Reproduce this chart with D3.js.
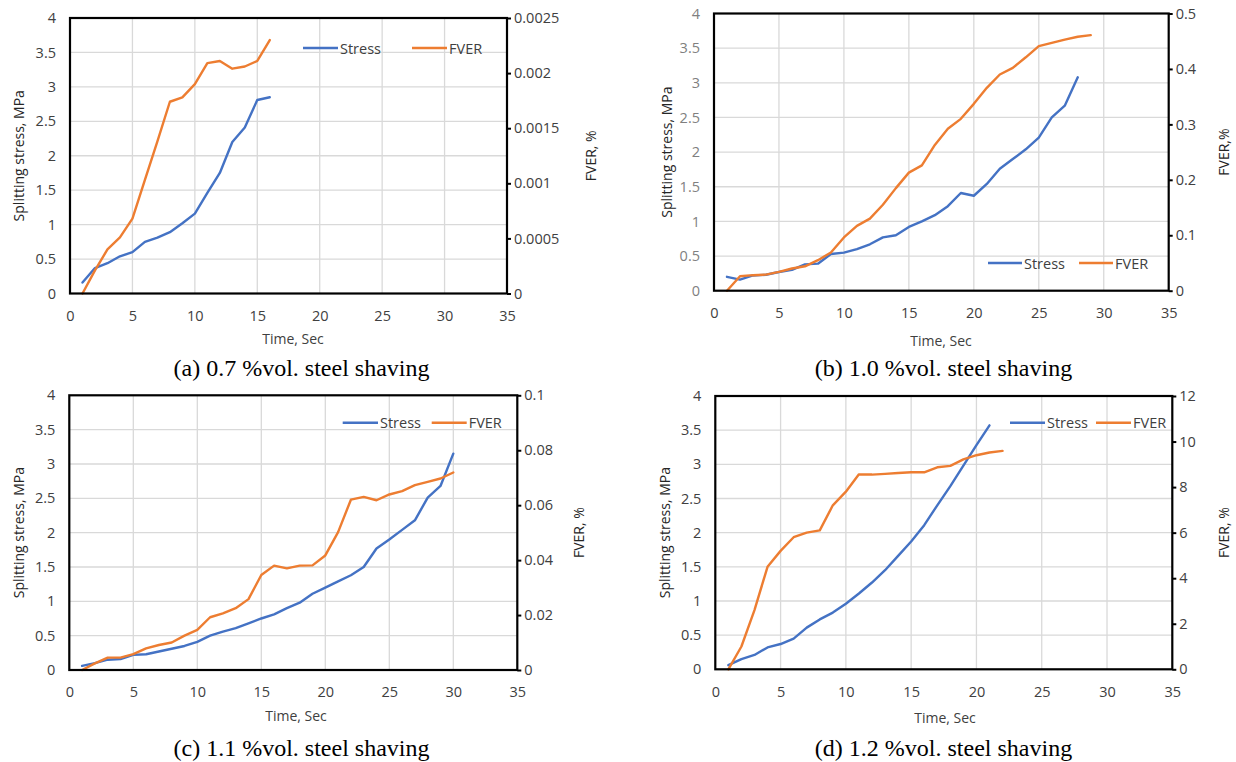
<!DOCTYPE html>
<html><head><meta charset="utf-8">
<script src="https://cdn.jsdelivr.net/npm/d3@7"></script>
<style>body{margin:0;background:#fff}</style>
</head><body><svg id="c" width="1236" height="762"></svg>
<script>
// ---------- data ----------
const seriesNames = ["Stress", "FVER"];
const xTickValues = [0, 5, 10, 15, 20, 25, 30, 35];
const xTickLabels = ["0", "5", "10", "15", "20", "25", "30", "35"];
const stressTickValues = [0, 0.5, 1, 1.5, 2, 2.5, 3, 3.5, 4];
const stressTickLabels = ["0", "0.5", "1", "1.5", "2", "2.5", "3", "3.5", "4"];

const fverTicksA = [0, 0.0005, 0.001, 0.0015, 0.002, 0.0025];
const fverLabelsA = ["0", "0.0005", "0.001", "0.0015", "0.002", "0.0025"];
const fverTicksB = [0, 0.1, 0.2, 0.3, 0.4, 0.5];
const fverLabelsB = ["0", "0.1", "0.2", "0.3", "0.4", "0.5"];
const fverTicksC = [0, 0.02, 0.04, 0.06, 0.08, 0.1];
const fverLabelsC = ["0", "0.02", "0.04", "0.06", "0.08", "0.1"];
const fverTicksD = [0, 2, 4, 6, 8, 10, 12];
const fverLabelsD = ["0", "2", "4", "6", "8", "10", "12"];

// (a) 0.7 %vol
const timeStressA = [1,2,3,4,5,6,7,8,9,10,11,12,13,14,15,16];
const stressA = [0.16,0.37,0.44,0.54,0.60,0.75,0.81,0.89,1.02,1.16,1.46,1.75,2.20,2.41,2.81,2.85];
const timeFverA = [1,2,3,4,5,6,7,8,9,10,11,12,13,14,15,16];
const fverA = [0,0.00021,0.00040,0.00051,0.00068,0.00103,0.00138,0.00174,0.00178,0.00190,0.00209,0.00211,0.00204,0.00206,0.00211,0.00230];

// (b) 1.0 %vol
const timeStressB = [1,2,3,4,5,6,7,8,9,10,11,12,13,14,15,16,17,18,19,20,21,22,23,24,25,26,27,28];
const stressB = [0.20,0.16,0.22,0.23,0.27,0.30,0.38,0.39,0.53,0.55,0.60,0.67,0.77,0.80,0.92,1.00,1.09,1.22,1.41,1.37,1.54,1.76,1.90,2.04,2.21,2.50,2.67,3.08];
const timeFverB = [1,2,3,4,5,6,7,8,9,10,11,12,13,14,15,16,17,18,19,20,21,22,23,24,25,26,27,28,29];
const fverB = [0,0.026,0.028,0.029,0.034,0.040,0.044,0.055,0.069,0.096,0.117,0.130,0.155,0.185,0.213,0.226,0.263,0.292,0.310,0.337,0.366,0.390,0.402,0.421,0.441,0.447,0.453,0.458,0.461];

// (c) 1.1 %vol
const timeStressC = [1,2,3,4,5,6,7,8,9,10,11,12,13,14,15,16,17,18,19,20,21,22,23,24,25,26,27,28,29,30];
const stressC = [0.06,0.10,0.15,0.16,0.22,0.23,0.27,0.31,0.35,0.41,0.50,0.56,0.61,0.68,0.75,0.81,0.90,0.98,1.11,1.20,1.29,1.38,1.50,1.77,1.90,2.04,2.18,2.51,2.68,3.15];
const timeFverC = [1,2,3,4,5,6,7,8,9,10,11,12,13,14,15,16,17,18,19,20,21,22,23,24,25,26,27,28,29,30];
const fverC = [0,0.0024,0.0045,0.0045,0.0058,0.0079,0.0091,0.0100,0.0125,0.0146,0.0192,0.0206,0.0225,0.0258,0.0346,0.0380,0.0370,0.0380,0.0381,0.0417,0.0502,0.0620,0.0630,0.0618,0.0639,0.0651,0.0673,0.0685,0.0697,0.0719];

// (d) 1.2 %vol
const timeStressD = [1,2,3,4,5,6,7,8,9,10,11,12,13,14,15,16,17,18,19,20,21];
const stressD = [0.06,0.15,0.21,0.32,0.37,0.45,0.61,0.73,0.83,0.96,1.11,1.27,1.45,1.66,1.87,2.11,2.40,2.68,2.98,3.28,3.57];
const timeFverD = [1,2,3,4,5,6,7,8,9,10,11,12,13,14,15,16,17,18,19,20,21,22];
const fverD = [0,1.0,2.6,4.5,5.2,5.8,6.0,6.1,7.2,7.8,8.56,8.55,8.58,8.62,8.65,8.65,8.87,8.93,9.22,9.40,9.52,9.59];

const captions = ["(a) 0.7 %vol. steel shaving", "(b) 1.0 %vol. steel shaving", "(c) 1.1 %vol. steel shaving", "(d) 1.2 %vol. steel shaving"];
const xTitle = "Time, Sec";
const yTitle = "Splitting stress, MPa";
const y2Titles = ["FVER, %", "FVER,%", "FVER, %", "FVER, %"];

// ---------- layout ----------
const panels = [
  {L:70, R:507, T:18, B:293.5, ts:timeStressA, s:stressA, tf:timeFverA, f:fverA, fT:fverTicksA, fL:fverLabelsA,
   leg:{y:48, b1:303, b2:338, o1:412, o2:447}, yt:{x:18}, y2t:{x:590}, xt:{x:293, y:338}, cap:{x:301.5, y:368}, leftCol:"#404040"},
  {L:714, R:1168.7, T:13.5, B:290.7, ts:timeStressB, s:stressB, tf:timeFverB, f:fverB, fT:fverTicksB, fL:fverLabelsB,
   leg:{y:263, b1:988, b2:1022, o1:1079, o2:1113}, yt:{x:666.5}, y2t:{x:1223}, xt:{x:941, y:340}, cap:{x:943.5, y:368}, leftCol:"#7f7f7f"},
  {L:69.3, R:517.3, T:395.3, B:670, ts:timeStressC, s:stressC, tf:timeFverC, f:fverC, fT:fverTicksC, fL:fverLabelsC,
   leg:{y:422.7, b1:342.7, b2:378, o1:431.7, o2:466.7}, yt:{x:18.3}, y2t:{x:578}, xt:{x:296, y:715}, cap:{x:301.5, y:748}, leftCol:"#404040"},
  {L:715.3, R:1172.3, T:396, B:669.3, ts:timeStressD, s:stressD, tf:timeFverD, f:fverD, fT:fverTicksD, fL:fverLabelsD,
   leg:{y:422.7, b1:1010, b2:1045, o1:1096, o2:1131}, yt:{x:664}, y2t:{x:1223}, xt:{x:945, y:717}, cap:{x:943.5, y:748}, leftCol:"#404040"}
];

const BLUE = "#4472C4", ORANGE = "#ED7D31", GRID = "#d9d9d9";
const FONT = "'Open Sans', 'Noto Sans', sans-serif";
const svg = d3.select("#c");

panels.forEach((p, i) => {
  const g = svg.append("g");
  const x = d3.scaleLinear().domain([0, 35]).range([p.L, p.R]);
  const y = d3.scaleLinear().domain([0, 4]).range([p.B, p.T]);
  const y2 = d3.scaleLinear().domain([0, p.fT[p.fT.length - 1]]).range([p.B, p.T]);

  // gridlines
  g.selectAll(".vg").data(xTickValues.filter(v => v > 0 && v < 35)).join("line")
    .attr("x1", d => x(d)).attr("x2", d => x(d)).attr("y1", p.T).attr("y2", p.B)
    .attr("stroke", GRID).attr("stroke-width", 1.3);
  g.selectAll(".hg").data(stressTickValues.filter(v => v > 0 && v < 4)).join("line")
    .attr("y1", d => y(d)).attr("y2", d => y(d)).attr("x1", p.L).attr("x2", p.R)
    .attr("stroke", GRID).attr("stroke-width", 1.3);

  // series
  const lineS = d3.line().x((d, k) => x(p.ts[k])).y(d => y(d));
  const lineF = d3.line().x((d, k) => x(p.tf[k])).y(d => y2(d));
  g.append("path").datum(p.s).attr("d", lineS).attr("fill", "none").attr("stroke", BLUE)
    .attr("stroke-width", 2.4).attr("stroke-linejoin", "round").attr("stroke-linecap", "round");
  g.append("path").datum(p.f).attr("d", lineF).attr("fill", "none").attr("stroke", ORANGE)
    .attr("stroke-width", 2.4).attr("stroke-linejoin", "round").attr("stroke-linecap", "round");

  // frame
  g.append("rect").attr("x", p.L).attr("y", p.T).attr("width", p.R - p.L).attr("height", p.B - p.T)
    .attr("fill", "none").attr("stroke", "#000").attr("stroke-width", 2.2);

  // axes
  const ax = g.append("g").attr("transform", `translate(0,${p.B})`)
    .call(d3.axisBottom(x).tickValues(xTickValues).tickFormat((d, k) => xTickLabels[k]).tickSize(0).tickPadding(17));
  const ay = g.append("g").attr("transform", `translate(${p.L},0)`)
    .call(d3.axisLeft(y).tickValues(stressTickValues).tickFormat((d, k) => stressTickLabels[k]).tickSize(0).tickPadding(14));
  const ay2 = g.append("g").attr("transform", `translate(${p.R},0)`)
    .call(d3.axisRight(y2).tickValues(p.fT).tickFormat((d, k) => p.fL[k]).tickSize(4).tickPadding(3));
  [ax, ay, ay2].forEach(a => {
    a.select(".domain").remove();
    a.selectAll("text").attr("font-family", FONT).attr("font-size", 14.5).attr("fill", "#404040");
  });
  ay.selectAll("text").attr("fill", p.leftCol);
  ay2.selectAll("line").attr("stroke", "#000").attr("stroke-width", 2);

  // titles
  g.append("text").attr("x", p.xt.x).attr("y", p.xt.y).attr("text-anchor", "middle").attr("dominant-baseline", "central")
    .attr("font-family", FONT).attr("font-size", 14).attr("fill", "#404040").text(xTitle);
  const cy = (p.T + p.B) / 2;
  g.append("text").attr("transform", `translate(${p.yt.x},${cy}) rotate(-90)`).attr("text-anchor", "middle")
    .attr("dominant-baseline", "central").attr("font-family", FONT).attr("font-size", 14).attr("fill", "#262626").text(yTitle);
  g.append("text").attr("transform", `translate(${p.y2t.x},${cy}) rotate(-90)`).attr("text-anchor", "middle")
    .attr("dominant-baseline", "central").attr("font-family", FONT).attr("font-size", 14).attr("fill", "#262626").text(y2Titles[i]);

  // legend
  const lg = g.append("g");
  [[p.leg.b1, p.leg.b2, BLUE, seriesNames[0]], [p.leg.o1, p.leg.o2, ORANGE, seriesNames[1]]].forEach(([a, b, c, t]) => {
    lg.append("line").attr("x1", a).attr("x2", b).attr("y1", p.leg.y).attr("y2", p.leg.y)
      .attr("stroke", c).attr("stroke-width", 2.4);
    lg.append("text").attr("x", b + 2).attr("y", p.leg.y).attr("dominant-baseline", "central")
      .attr("font-family", FONT).attr("font-size", 14.5).attr("fill", "#404040").text(t);
  });

  // caption
  g.append("text").attr("x", p.cap.x).attr("y", p.cap.y).attr("text-anchor", "middle").attr("dominant-baseline", "central")
    .attr("font-family", "'Liberation Serif', 'Times New Roman', serif").attr("font-size", 24).attr("fill", "#000").text(captions[i]);
});
</script>
</body></html>
